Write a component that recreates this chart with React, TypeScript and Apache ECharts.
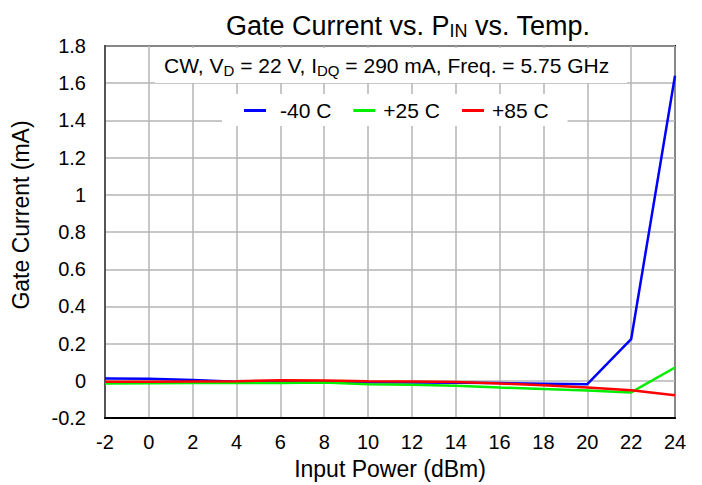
import React, { useEffect, useRef } from "react";
import * as echarts from "echarts";

const inputPower = [-2, 0, 2, 4, 6, 8, 10, 12, 14, 16, 18, 20, 22, 24];
const minus40 = [0.013, 0.011, 0.005, -0.004, -0.003, -0.004, -0.007, -0.009, -0.01, -0.012, -0.015, -0.018, 0.224, 1.64];
const plus25 = [-0.014, -0.013, -0.012, -0.01, -0.012, -0.009, -0.018, -0.021, -0.026, -0.036, -0.043, -0.052, -0.062, 0.072];
const plus85 = [-0.005, -0.005, -0.003, -0.002, 0.004, 0.002, -0.002, -0.003, -0.006, -0.014, -0.024, -0.036, -0.05, -0.077];
const seriesNames = ["-40 C", "+25 C", "+85 C"];
const seriesColors = ["#0000ff", "#00ee00", "#ff0000"];

const FONT = "Liberation Sans, Arial, sans-serif";

export default function App() {
  const ref = useRef<HTMLDivElement>(null);
  useEffect(() => {
    if (!ref.current) return;
    const chart = echarts.init(ref.current, undefined, { renderer: "svg" });
    const all = [minus40, plus25, plus85];
    chart.setOption({
      animation: false,
      textStyle: { fontFamily: FONT },
      title: {
        text: "{m|Gate Current vs. P}{s|IN}{m| vs. Temp.}",
        left: 221,
        top: 6,
        textStyle: {
          rich: {
            m: { fontSize: 27, color: "#000", fontFamily: FONT, fontWeight: "normal" },
            s: { fontSize: 18, color: "#000", fontFamily: FONT, fontWeight: "normal", padding: [11, 0, 0, 0] },
          },
        },
      },
      grid: {
        left: 105,
        right: 27,
        top: 46,
        bottom: 66,
        show: true,
        borderColor: "#000",
        borderWidth: 2,
        containLabel: false,
      },
      legend: {
        data: seriesNames,
        icon: "rect",
        left: 222,
        top: 94,
        backgroundColor: "#fff",
        padding: [6, 19, 5, 22],
        itemGap: 22,
        itemWidth: 22,
        itemHeight: 3,
        formatter: (name: string) => (name === "-40 C" ? "{w|" + name + "}" : "{n|" + name + "}"),
        textStyle: {
          fontSize: 21,
          color: "#000",
          fontFamily: FONT,
          rich: {
            w: { fontSize: 21, color: "#000", fontFamily: FONT, padding: [0, 0, 0, 9] },
            n: { fontSize: 21, color: "#000", fontFamily: FONT, padding: [0, 0, 0, 3] },
          },
        },
        z: 20,
      },
      xAxis: {
        type: "value",
        min: -2,
        max: 24,
        interval: 2,
        name: "Input Power (dBm)",
        nameLocation: "middle",
        nameGap: 37,
        nameTextStyle: { fontSize: 23, color: "#000", fontFamily: FONT },
        axisLine: { show: true, onZero: false, lineStyle: { color: "#000", width: 2 } },
        axisTick: { show: false },
        axisLabel: { fontSize: 20, color: "#000", margin: 14, fontFamily: FONT },
        splitLine: { show: true, lineStyle: { color: "#b4b4b4", width: 1.5 } },
      },
      yAxis: {
        type: "value",
        min: -0.2,
        max: 1.8,
        interval: 0.2,
        axisLine: { show: true, onZero: false, lineStyle: { color: "#555", width: 2 } },
        axisTick: { show: false },
        axisLabel: {
          fontSize: 20,
          color: "#000",
          margin: 19,
          fontFamily: FONT,
          formatter: (v: number) => String(Math.round(v * 10) / 10),
        },
        splitLine: { show: true, lineStyle: { color: "#b4b4b4", width: 1.5 } },
      },
      graphic: [
        {
          type: "rect",
          z: 10,
          shape: { x: 155, y: 48, width: 472, height: 35 },
          style: { fill: "#fff" },
        },
        {
          type: "text",
          z: 11,
          left: 164,
          top: 55,
          style: {
            text: "{m|CW, V}{s|D}{m| = 22 V, I}{s|DQ}{m| = 290 mA, Freq. = 5.75 GHz}",
            rich: {
              m: { fontSize: 21, fill: "#000", fontFamily: FONT },
              s: { fontSize: 15, fill: "#000", fontFamily: FONT, padding: [9, 0, 0, 0] },
            },
          },
        },
        {
          type: "text",
          z: 11,
          x: 21,
          y: 215,
          rotation: Math.PI / 2,
          style: {
            text: "Gate Current (mA)",
            fontSize: 23,
            fontFamily: FONT,
            fill: "#000",
            textAlign: "center",
            textVerticalAlign: "middle",
          },
        },
      ],
      series: all.map((vals, i) => ({
        name: seriesNames[i],
        type: "line",
        symbol: "none",
        showSymbol: false,
        data: inputPower.map((x, j) => [x, vals[j]]),
        lineStyle: { color: seriesColors[i], width: 2.5 },
        itemStyle: { color: seriesColors[i] },
        z: 3 + (i === 2 ? 1 : 0),
      })),
    });
    return () => chart.dispose();
  }, []);
  return <div ref={ref} style={{ width: 702, height: 485, position: "absolute", left: 0, top: 0 }} />;
}
